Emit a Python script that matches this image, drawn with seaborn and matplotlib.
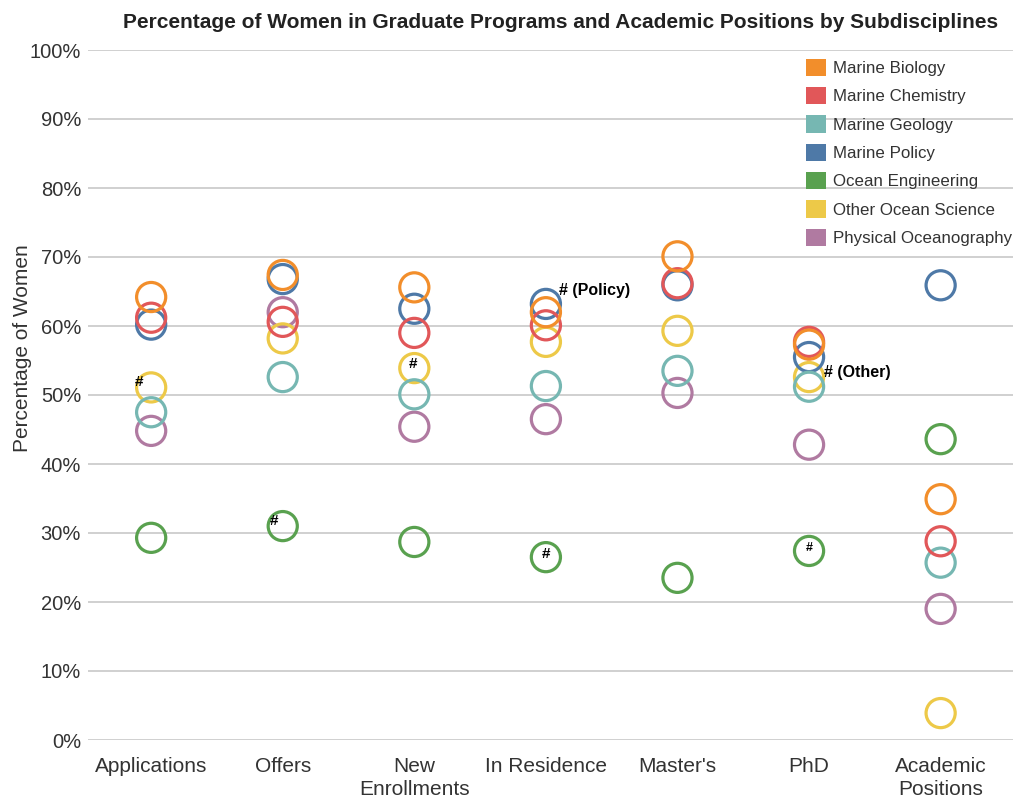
import pandas as pd
import numpy as np
import matplotlib.pyplot as plt
import seaborn as sns
from matplotlib.patches import Patch

stages = ['Applications', 'Offers', 'New\nEnrollments', 'In Residence',
          "Master's", 'PhD', 'Academic\nPositions']
fields = ['Marine Biology', 'Marine Chemistry', 'Marine Geology', 'Marine Policy',
          'Ocean Engineering', 'Other Ocean Science', 'Physical Oceanography']
colors = ['#F28E2B', '#E15759', '#76B7B2', '#4E79A7', '#59A14F', '#EDC948', '#B07AA1']

# percent women, one list per subdiscipline, in stage order
marine_biology = [64.2, 67.4, 65.6, 62.0, 70.1, 57.3, 34.9]
marine_chemistry = [61.2, 60.6, 59.0, 60.1, 66.2, 57.7, 28.8]
marine_geology = [47.5, 52.6, 50.1, 51.3, 53.5, 51.2, 25.7]
marine_policy = [60.2, 66.8, 62.5, 63.2, 65.9, 55.5, 65.9]
ocean_engineering = [29.3, 31.0, 28.7, 26.5, 23.5, 27.4, 43.6]
other_ocean = [51.1, 58.2, 53.9, 57.7, 59.3, 52.6, 3.9]
physical_ocean = [44.8, 62.0, 45.4, 46.5, 50.3, 42.8, 19.0]

series = [marine_biology, marine_chemistry, marine_geology, marine_policy,
          ocean_engineering, other_ocean, physical_ocean]

# footnote marks: (stage, field, text)
notes = [
    ('Applications', 'Other Ocean Science', '#'),
    ('Offers', 'Ocean Engineering', '#'),
    ('New\nEnrollments', 'Other Ocean Science', '#'),
    ('In Residence', 'Ocean Engineering', '#'),
    ('In Residence', 'Marine Policy', '# (Policy)'),
    ('PhD', 'Ocean Engineering', '#'),
    ('PhD', 'Other Ocean Science', '# (Other)'),
]
note_style = [((-12, 5), 'center', 11), ((-9, 5), 'center', 11), ((-1, 4), 'center', 11),
              ((0, 3), 'center', 11), ((13, 13), 'left', 11.5), ((0, 3), 'center', 9),
              ((15, 5), 'left', 11.5)]

rows = []
for f, vals in zip(fields, series):
    for s, v in zip(stages, vals):
        rows.append({'stage': s, 'field': f, 'pct': v})
df = pd.DataFrame(rows)
# draw order so the later fields sit on top
draw_order = ['Physical Oceanography', 'Other Ocean Science', 'Ocean Engineering',
              'Marine Policy', 'Marine Geology', 'Marine Chemistry', 'Marine Biology']
df['order'] = df['field'].map({f: i for i, f in enumerate(draw_order)})
df = df.sort_values('order', kind='stable')
df['x'] = df['stage'].map({s: i for i, s in enumerate(stages)})

sns.set_style('white')
plt.rcParams['font.family'] = ['Liberation Sans', 'DejaVu Sans']

fig = plt.figure(figsize=(10.13, 7.99), dpi=100)
ax = fig.add_axes([88 / 1013, 1 - 740 / 799, 1 - 88 / 1013, 690 / 799])

palette = dict(zip(fields, colors))
sns.scatterplot(data=df, x='x', y='pct', hue='field', palette=palette, s=440,
                linewidth=2.3, legend=False, ax=ax, clip_on=False, zorder=3)
coll = ax.collections[0]
fc = coll.get_facecolors()
coll.set_edgecolors(fc)
coll.set_facecolors('none')

for (stage, field, txt), (off, ha, fs) in zip(notes, note_style):
    xi = stages.index(stage)
    yv = series[fields.index(field)][xi]
    ax.annotate(txt, xy=(xi, yv), xytext=off, textcoords='offset pixels',
                ha=ha, va='center', fontsize=fs, fontweight='bold', color='black', zorder=5)

ax.set_xlim(-0.48, 6.55)
ax.set_ylim(0, 100)
ax.set_yticks(np.arange(0, 101, 10))
ax.set_yticklabels([f'{v}%' for v in range(0, 101, 10)])
ax.set_xticks(range(len(stages)))
ax.set_xticklabels(stages, linespacing=1.3)
ax.tick_params(axis='x', labelsize=15, colors='#333333', length=0, pad=12)
ax.tick_params(axis='y', labelsize=14.5, colors='#333333', length=0, pad=5)
ax.grid(axis='y', color='#c8c8c8', linewidth=1.2)
ax.grid(axis='x', visible=False)
ax.set_axisbelow(True)
for sp in ax.spines.values():
    sp.set_visible(False)
ax.set_xlabel('')
ax.set_ylabel('Percentage of Women', fontsize=15, color='#333333')
ax.yaxis.set_label_coords(-56 / 925, (740 - 348) / 690)

handles = [Patch(facecolor=c, edgecolor='none') for c in colors]
fig.legend(handles, fields, loc='upper left', bbox_to_anchor=(799 / 1013, 1 - 52 / 799),
           frameon=False, fontsize=12.2, handlelength=1.18, handleheight=1.18,
           handletextpad=0.45, labelspacing=0.65, labelcolor='#333333', borderaxespad=0)

fig.text(0.553, 1 - 22 / 799,
         'Percentage of Women in Graduate Programs and Academic Positions by Subdisciplines',
         ha='center', va='center', fontsize=15, fontweight='bold', color='#222222')

fig.savefig('out.png', dpi=100)
